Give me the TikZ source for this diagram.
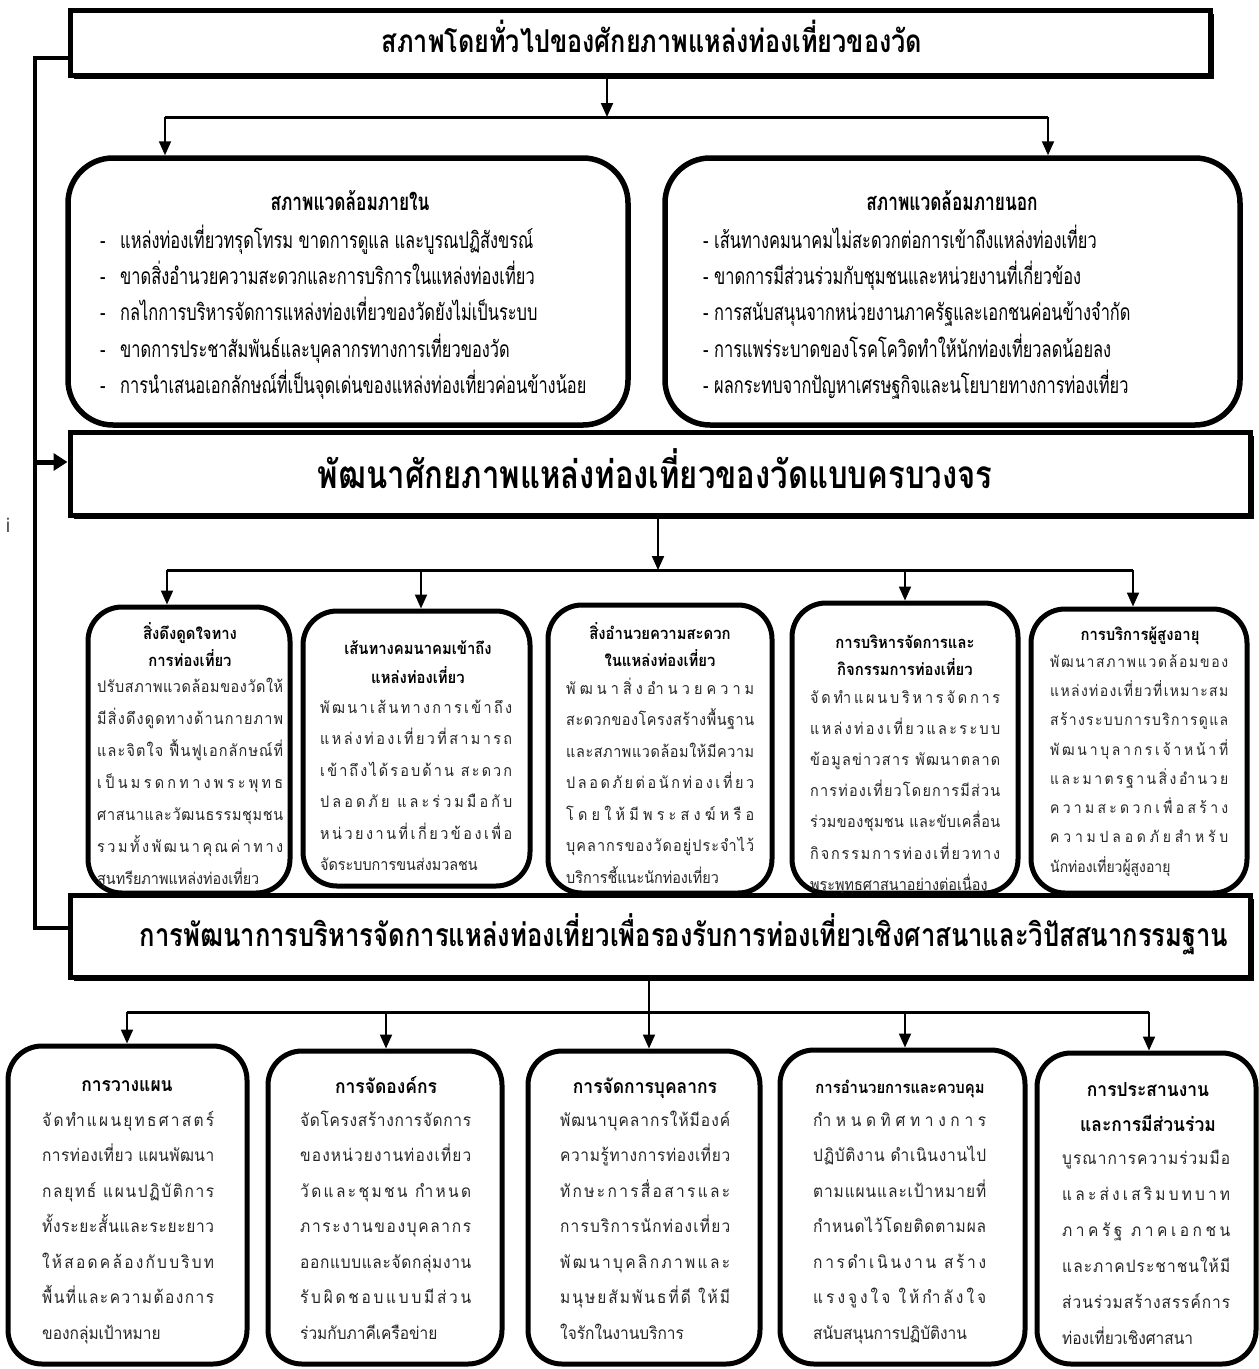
\documentclass[tikz,border=0pt]{standalone}
\usepackage{fontspec}
\newfontfamily\thai[Script=Thai]{Loma}
\newfontfamily\thain[Script=Thai,FakeStretch=0.9]{Loma}
\newfontfamily\thaicond[Script=Thai,FakeStretch=0.8]{Loma}
\newfontfamily\thaicc[Script=Thai,FakeStretch=0.72]{Loma}
\usetikzlibrary{arrows.meta,shadows}
% distributed (Thai justified) lines: stretchable glue before every base character
\newXeTeXintercharclass\thB
\newXeTeXintercharclass\thM
\count255="0E01
\loop \XeTeXcharclass\count255=\thB \advance\count255 by 1 \ifnum\count255<"0E5C \repeat
\XeTeXcharclass"0E31=\thM
\XeTeXcharclass"0E33=\thM
\XeTeXcharclass"0E34=\thM \XeTeXcharclass"0E35=\thM \XeTeXcharclass"0E36=\thM
\XeTeXcharclass"0E37=\thM \XeTeXcharclass"0E38=\thM \XeTeXcharclass"0E39=\thM
\XeTeXcharclass"0E3A=\thM
\XeTeXcharclass"0E47=\thM \XeTeXcharclass"0E48=\thM \XeTeXcharclass"0E49=\thM
\XeTeXcharclass"0E4A=\thM \XeTeXcharclass"0E4B=\thM \XeTeXcharclass"0E4C=\thM
\XeTeXcharclass"0E4D=\thM \XeTeXcharclass"0E4E=\thM
\XeTeXinterchartoks\thB\thB={\hskip0pt plus 1fil\relax}
\XeTeXinterchartoks\thM\thB={\hskip0pt plus 1fil\relax}
\newcommand\jl[2]{\makebox[#1][s]{\spaceskip=\fontdimen2\font plus 1fil\relax\XeTeXinterchartokenstate=1 #2}}
\tikzset{
  sqbox/.style={draw, line width=5pt, fill=white, inner sep=0pt,
    drop shadow={shadow xshift=4pt, shadow yshift=-4pt, fill=black, opacity=1}},
  bigrbox/.style={draw, line width=5.5pt, fill=white, rounded corners=45pt, inner sep=0pt},
  rbox/.style={draw, line width=5pt, fill=white, rounded corners=34pt, inner sep=0pt},
  busline/.style={line width=3pt},
  arr/.style={line width=2pt, -{Triangle[length=14pt,width=12pt]}},
  fb/.style={line width=4pt},
  fbarr/.style={line width=5pt, -{Triangle[length=14pt,width=17pt]}},
  toptitle/.style={inner sep=0pt, anchor=mid, font=\thaicond\bfseries\fontsize{31.5}{33}\selectfont},
  midtitle/.style={inner sep=0pt, anchor=mid, font=\thaicond\bfseries\fontsize{38.8}{40}\selectfont},
  lowtitle/.style={inner sep=0pt, anchor=mid, font=\thaicond\bfseries\fontsize{32}{34}\selectfont},
  envtitle/.style={inner sep=0pt, anchor=mid, font=\thaicc\bfseries\fontsize{24}{26}\selectfont},
  envbody/.style={inner sep=0pt, font=\thaicc\fontsize{22.8}{25}\selectfont},
  rtitle/.style={inner sep=0pt, anchor=mid, font=\thain\bfseries\fontsize{16.5}{18}\selectfont},
  rbody/.style={inner sep=0pt, text=black!85, font=\thain\fontsize{16}{18}\selectfont},
  ebody/.style={inner sep=0pt, text=black!85, font=\thain\fontsize{15.5}{17}\selectfont},
  btitle/.style={inner sep=0pt, anchor=mid, font=\thain\bfseries\fontsize{19.4}{21}\selectfont},
  bbody/.style={inner sep=0pt, text=black!85, font=\thain\fontsize{17.2}{19}\selectfont}
}
\newcommand\mkbox[6]{\node[#6, minimum width={#4-#2}, minimum height={#5-#3}] (#1) at ({(#2+#4)/2},{(#3+#5)/2}) {};}
\newcommand\blines[6]{\foreach \myline [count=\myi] in {#6} {\node[#5, anchor=mid west] (#1-\myi) at (#2,{#3+#4*(\myi-1)}) {\myline};}}
% justified body: prefix, x, y0, step, style, width, justified lines, last line, number of justified lines
\newcommand\jlines[9]{\foreach \myline [count=\myi] in {#7} {\node[#5, anchor=mid west] (#1-\myi) at (#2,{#3+#4*(\myi-1)}) {\jl{#6}{\myline}};}
  \node[#5, anchor=mid west] (#1-last) at (#2,{#3+#4*#9}) {#8};}
\begin{document}
\begin{tikzpicture}[x=1pt,y=-1pt]
\path[use as bounding box, fill=white] (0,0) rectangle (1259,1369);

% ---------- top box
\mkbox{top}{70}{10}{1210}{75}{sqbox}
\node[toptitle] (topt) at (652,50) {สภาพโดยทั่วไปของศักยภาพแหล่งท่องเที่ยวของวัด};

% ---------- environment boxes
\mkbox{inL}{68}{158}{628}{425}{bigrbox}
\mkbox{inR}{665}{158}{1240}{425}{bigrbox}
\node[envtitle] (inLt) at (350,208) {สภาพแวดล้อมภายใน};
\node[envtitle] (inRt) at (952,208) {สภาพแวดล้อมภายนอก};
\blines{inLb}{100}{246}{36.3}{envbody}{\makebox[20pt][l]{-}แหล่งท่องเที่ยวทรุดโทรม ขาดการดูแล และบูรณปฏิสังขรณ์,
\makebox[20pt][l]{-}ขาดสิ่งอำนวยความสะดวกและการบริการในแหล่งท่องเที่ยว,
\makebox[20pt][l]{-}กลไกการบริหารจัดการแหล่งท่องเที่ยวของวัดยังไม่เป็นระบบ,
\makebox[20pt][l]{-}ขาดการประชาสัมพันธ์และบุคลากรทางการเที่ยวของวัด,
\makebox[20pt][l]{-}การนำเสนอเอกลักษณ์ที่เป็นจุดเด่นของแหล่งท่องเที่ยวค่อนข้างน้อย}
\blines{inRb}{703}{246}{36.3}{envbody}{- เส้นทางคมนาคมไม่สะดวกต่อการเข้าถึงแหล่งท่องเที่ยว,
- ขาดการมีส่วนร่วมกับชุมชนและหน่วยงานที่เกี่ยวข้อง,
- การสนับสนุนจากหน่วยงานภาครัฐและเอกชนค่อนข้างจำกัด,
- การแพร่ระบาดของโรคโควิดทำให้นักท่องเที่ยวลดน้อยลง,
- ผลกระทบจากปัญหาเศรษฐกิจและนโยบายทางการท่องเที่ยว}

% ---------- middle box
\mkbox{mid}{70}{432}{1250}{515}{sqbox}
\node[midtitle] (midt) at (655,486) {พัฒนาศักยภาพแหล่งท่องเที่ยวของวัดแบบครบวงจร};

% ---------- row of five factors
\mkbox{fA}{88}{607}{290}{893}{rbox}
\mkbox{fB}{303}{611}{530}{886}{rbox}
\mkbox{fC}{548}{605}{772}{893}{rbox}
\mkbox{fD}{792}{603}{1018}{893}{rbox}
\mkbox{fE}{1031}{609}{1247}{893}{rbox}

\node[rtitle] (fAt1) at (190,637) {สิ่งดึงดูดใจทาง};
\node[rtitle] (fAt2) at (190,664) {การท่องเที่ยว};
\jlines{fAb}{97}{690}{32}{rbody}{186pt}{ปรับสภาพแวดล้อมของวัดให้,มีสิ่งดึงดูดทางด้านกายภาพ,และจิตใจ ฟื้นฟูเอกลักษณ์ที่,เป็นมรดกทางพระพุทธ,ศาสนาและวัฒนธรรมชุมชน,รวมทั้งพัฒนาคุณค่าทาง}{สุนทรียภาพแหล่งท่องเที่ยว}{6}

\node[rtitle] (fBt1) at (418,652) {เส้นทางคมนาคมเข้าถึง};
\node[rtitle] (fBt2) at (418,681) {แหล่งท่องเที่ยว};
\jlines{fBb}{320}{711}{31.5}{rbody}{192pt}{พัฒนาเส้นทางการเข้าถึง,แหล่งท่องเที่ยวที่สามารถ,เข้าถึงได้รอบด้าน สะดวก,ปลอดภัย และร่วมมือกับ,หน่วยงานที่เกี่ยวข้องเพื่อ}{จัดระบบการขนส่งมวลชน}{5}

\node[rtitle] (fCt1) at (660,637) {สิ่งอำนวยความสะดวก};
\node[rtitle] (fCt2) at (660,664) {ในแหล่งท่องเที่ยว};
\jlines{fCb}{566}{692}{31.5}{rbody}{188pt}{พัฒนาสิ่งอำนวยความ,สะดวกของโครงสร้างพื้นฐาน,และสภาพแวดล้อมให้มีความ,ปลอดภัยต่อนักท่องเที่ยว,โดยให้มีพระสงฆ์หรือ,บุคลากรของวัดอยู่ประจำไว้}{บริการชี้แนะนักท่องเที่ยว}{6}

\node[rtitle] (fDt1) at (905,646) {การบริหารจัดการและ};
\node[rtitle] (fDt2) at (905,673) {กิจกรรมการท่องเที่ยว};
\jlines{fDb}{810}{701}{31.2}{rbody}{190pt}{จัดทำแผนบริหารจัดการ,แหล่งท่องเที่ยวและระบบ,ข้อมูลข่าวสาร พัฒนาตลาด,การท่องเที่ยวโดยการมีส่วน,ร่วมของชุมชน และขับเคลื่อน,กิจกรรมการท่องเที่ยวทาง}{พระพุทธศาสนาอย่างต่อเนื่อง}{6}

\node[rtitle] (fEt1) at (1140,638) {การบริการผู้สูงอายุ};
\jlines{fEb}{1050}{665}{29.3}{ebody}{178pt}{พัฒนาสภาพแวดล้อมของ,แหล่งท่องเที่ยวที่เหมาะสม,สร้างระบบการบริการดูแล,พัฒนาบุลากรเจ้าหน้าที่,และมาตรฐานสิ่งอำนวย,ความสะดวกเพื่อสร้าง,ความปลอดภัยสำหรับ}{นักท่องเที่ยวผู้สูงอายุ}{7}

% ---------- lower main box
\mkbox{low}{70}{895}{1250}{977}{sqbox}
\node[lowtitle] (lowt) at (684,944) {การพัฒนาการบริหารจัดการแหล่งท่องเที่ยวเพื่อรองรับการท่องเที่ยวเชิงศาสนาและวิปัสสนากรรมฐาน};

% ---------- bottom row of five functions
\mkbox{p1}{8}{1046}{247}{1364}{rbox}
\mkbox{p2}{268}{1051}{502}{1364}{rbox}
\mkbox{p3}{528}{1051}{760}{1364}{rbox}
\mkbox{p4}{780}{1050}{1025}{1364}{rbox}
\mkbox{p5}{1037}{1053}{1256}{1364}{rbox}

\node[btitle] (p1t) at (127,1089) {การวางแผน};
\jlines{p1b}{42}{1124}{35.5}{bbody}{172pt}{จัดทำแผนยุทธศาสตร์,การท่องเที่ยว แผนพัฒนา,กลยุทธ์ แผนปฏิบัติการ,ทั้งระยะสั้นและระยะยาว,ให้สอดคล้องกับบริบท,พื้นที่และความต้องการ}{ของกลุ่มเป้าหมาย}{6}

\node[btitle] (p2t) at (386,1091) {การจัดองค์กร};
\jlines{p2b}{300}{1124}{35.5}{bbody}{171pt}{จัดโครงสร้างการจัดการ,ของหน่วยงานท่องเที่ยว,วัดและชุมชน กำหนด,ภาระงานของบุคลากร,ออกแบบและจัดกลุ่มงาน,รับผิดชอบแบบมีส่วน}{ร่วมกับภาคีเครือข่าย}{6}

\node[btitle] (p3t) at (645,1091) {การจัดการบุคลากร};
\jlines{p3b}{560}{1124}{35.5}{bbody}{170pt}{พัฒนาบุคลากรให้มีองค์,ความรู้ทางการท่องเที่ยว,ทักษะการสื่อสารและ,การบริการนักท่องเที่ยว,พัฒนาบุคลิกภาพและ,มนุษยสัมพันธที่ดี ให้มี}{ใจรักในงานบริการ}{6}

\node[btitle, font=\thain\bfseries\fontsize{16.5}{18}\selectfont] (p4t) at (900,1091) {การอำนวยการและควบคุม};
\jlines{p4b}{813}{1124}{35.5}{bbody}{173pt}{กำหนดทิศทางการ,ปฏิบัติงาน ดำเนินงานไป,ตามแผนและเป้าหมายที่,กำหนดไว้โดยติดตามผล,การดำเนินงาน สร้าง,แรงจูงใจ ให้กำลังใจ}{สนับสนุนการปฏิบัติงาน}{6}

\node[btitle] (p5t1) at (1148,1094) {การประสานงาน};
\node[btitle] (p5t2) at (1148,1129) {และการมีส่วนร่วม};
\jlines{p5b}{1062}{1162}{36}{bbody}{168pt}{บูรณาการความร่วมมือ,และส่งเสริมบทบาท,ภาครัฐ ภาคเอกชน,และภาคประชาชนให้มี,ส่วนร่วมสร้างสรรค์การ}{ท่องเที่ยวเชิงศาสนา}{5}

% ---------- connectors: top -> environment boxes
\coordinate (j1) at (607,117);
\coordinate (j1L) at (165,117);
\coordinate (j1R) at (1048,117);
\draw[arr] (top.south -| j1) -- (j1);
\draw[busline] (j1L) -- (j1R);
\draw[arr] (j1L) -- (j1L |- inL.north);
\draw[arr] (j1R) -- (j1R |- inR.north);

% ---------- middle -> five factors
\coordinate (j2) at (658,570);
\coordinate (j2A) at (167,570);
\coordinate (j2B) at (421,570);
\coordinate (j2D) at (905,570);
\coordinate (j2E) at (1133,570);
\draw[arr] (mid.south -| j2) -- (j2);
\draw[busline] (j2A) -- (j2E);
\draw[arr] (j2A) -- (j2A |- fA.north);
\draw[arr] (j2B) -- (j2B |- fB.north);
\draw[arr] (j2D) -- (j2D |- fD.north);
\draw[arr] (j2E) -- (j2E |- fE.north);

% ---------- lower box -> five functions
\coordinate (j3) at (649,1012);
\coordinate (j3a) at (127,1012);
\coordinate (j3b) at (386,1012);
\coordinate (j3d) at (905,1012);
\coordinate (j3e) at (1149,1012);
\draw[busline] (j3a) -- (j3e);
\draw[arr] (low.south -| j3) -- (j3 |- p3.north);
\draw[arr] (j3a) -- (j3a |- p1.north);
\draw[arr] (j3b) -- (j3b |- p2.north);
\draw[arr] (j3d) -- (j3d |- p4.north);
\draw[arr] (j3e) -- (j3e |- p5.north);

% ---------- feedback line on the left
\coordinate (fbTop) at (35,58);
\coordinate (fbBot) at (35,928);
\coordinate (fbMid) at (35,462);
\draw[fb] (fbTop -| top.west) -- (fbTop) -- (fbBot) -- (fbBot -| low.west);
\draw[fbarr] (fbMid) -- (fbMid -| mid.west);

\node[inner sep=0pt, font=\thai\fontsize{20}{20}\selectfont, text=black!70] (stray) at (8,525) {i};
\end{tikzpicture}
\end{document}
